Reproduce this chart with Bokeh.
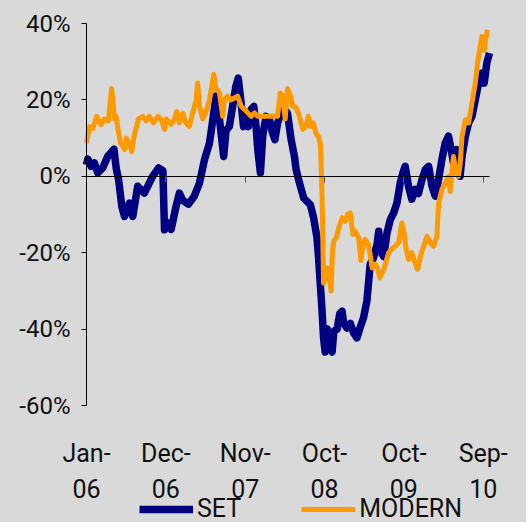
from bokeh.plotting import figure
from bokeh.models import Range1d, LinearAxis, FixedTicker, Legend, LegendItem
from bokeh.core.properties import value
from bokeh.embed import file_html
from bokeh.resources import INLINE

# Trading-day index (0 = first trading day of Jan 2006) and cumulative return in %
set_day = [0, 4, 14, 24, 34, 49, 64, 83, 90, 97, 107, 115, 130, 140, 155, 175, 200, 218, 231,
           236, 246, 256, 271, 281, 291, 308, 326, 342, 357, 372, 382, 392, 397, 407, 415, 422,
           432, 442, 452, 459, 468, 475, 483, 490, 498, 506, 513, 518, 526, 533, 543, 553, 563,
           570, 578, 589, 598, 608, 619, 629, 634, 644, 657, 677, 687, 697, 702, 707, 712, 717,
           722, 728, 735, 743, 748, 758, 766, 773, 778, 788, 798, 808, 818, 828, 838, 848, 853,
           858, 868, 879, 884, 889, 899, 909, 919, 929, 939, 949, 957, 964, 974, 984, 994, 1004,
           1015, 1025, 1035, 1045, 1055, 1065, 1075, 1085, 1095, 1102, 1110, 1120, 1130, 1136,
           1146, 1156, 1166, 1176, 1186, 1196, 1203, 1211, 1219]
set_pct = [3.0, 4.5, 2.6, 3.5, 0.9, 2.2, 5.2, 7.1, 2.0, -0.8, -8.0, -10.5, -7.0, -10.5, -2.6,
           -4.4, 0.0, 2.2, 1.5, -14.0, -12.2, -13.9, -7.8, -4.4, -6.3, -7.3, -5.2, -1.7, 4.4, 8.7,
           14.8, 21.0, 19.0, 11.3, 5.2, 12.0, 13.0, 18.3, 23.6, 25.7, 19.0, 13.0, 15.7, 13.0, 17.5,
           18.3, 13.0, 7.0, 0.9, 10.5, 15.7, 15.0, 11.3, 9.6, 14.0, 16.6, 17.5, 16.5, 9.6, 5.2,
           1.8, -1.7, -5.7, -7.4, -10.9, -16.0, -21.4, -28.0, -34.5, -42.3, -46.0, -40.0, -44.5,
           -46.0, -40.6, -40.0, -36.0, -35.3, -38.5, -39.7, -38.5, -41.0, -42.3, -39.5, -37.0,
           -32.7, -28.0, -23.0, -21.4, -17.8, -14.4, -19.6, -21.0, -14.8, -11.3, -9.6, -7.0, -1.7,
           0.9, 2.6, -2.6, -6.0, -3.4, -4.5, -0.8, 1.8, 2.6, -2.6, -5.2, -0.8, 4.4, 8.7, 10.5,
           7.5, 3.5, 7.0, 0.0, 5.2, 10.5, 14.0, 15.7, 20.0, 24.4, 27.0, 24.4, 29.7, 32.3]

modern_day = [0, 9, 19, 31, 44, 54, 66, 76, 85, 90, 95, 103, 115, 120, 130, 137, 145, 157, 170,
              180, 190, 203, 216, 226, 236, 241, 256, 266, 273, 281, 291, 301, 311, 321, 332, 336,
              342, 352, 362, 372, 385, 392, 402, 412, 417, 427, 437, 447, 457, 468, 478, 488, 498,
              508, 518, 541, 571, 578, 586, 593, 601, 608, 617, 624, 634, 644, 654, 664, 671, 679,
              686, 694, 701, 707, 711, 714, 717, 722, 729, 735, 740, 744, 748, 756, 763, 773, 783,
              790, 798, 806, 813, 823, 830, 836, 843, 853, 858, 864, 874, 880, 887, 899, 914, 924,
              934, 944, 954, 961, 967, 974, 984, 994, 1001, 1010, 1020, 1030, 1040, 1050, 1060,
              1065, 1075, 1085, 1095, 1100, 1105, 1110, 1118, 1125, 1130, 1136, 1146, 1156, 1166,
              1176, 1183, 1191, 1196, 1203, 1209, 1213]
modern_pct = [8.7, 13.0, 12.5, 15.7, 13.5, 15.0, 14.5, 23.0, 15.0, 15.7, 12.3, 8.7, 7.0, 10.0,
              8.7, 6.5, 11.0, 15.0, 15.7, 14.5, 15.7, 14.0, 15.7, 14.8, 12.3, 15.0, 13.6, 15.0,
              17.0, 14.0, 16.5, 14.0, 13.0, 16.6, 20.0, 24.4, 18.3, 15.0, 17.0, 20.0, 26.7, 22.8,
              22.0, 15.7, 20.0, 21.0, 20.0, 20.5, 21.0, 18.3, 17.5, 16.6, 15.7, 16.6, 15.7, 15.7,
              15.7, 15.7, 21.8, 21.0, 15.0, 23.0, 21.0, 18.3, 18.0, 15.7, 12.3, 13.0, 15.7, 13.0,
              14.0, 11.3, 10.5, 8.7, 0.0, -12.0, -28.0, -26.6, -24.0, -26.6, -30.0, -19.6, -17.0,
              -16.0, -13.5, -10.9, -11.8, -10.0, -9.6, -15.2, -14.4, -16.1, -22.0, -18.0, -16.5,
              -17.8, -20.5, -24.0, -23.0, -24.0, -26.6, -24.4, -20.0, -19.0, -18.3, -17.4, -12.2,
              -15.0, -19.0, -21.8, -20.0, -22.7, -24.4, -21.0, -18.3, -15.7, -17.4, -18.3, -15.7,
              -7.0, -3.5, -1.7, 0.0, -4.0, 0.9, 5.2, 0.9, 0.0, 3.0, 10.5, 14.8, 14.0, 19.2, 24.4,
              29.7, 34.0, 36.6, 33.0, 36.6, 38.4]

tick_days = [0, 240, 480, 720, 960, 1200]
tick_month = ["Jan-", "Dec-", "Nov-", "Oct-", "Oct-", "Sep-"]
tick_year = ["06", "06", "07", "08", "09", "10"]
y_ticks = [-60, -40, -20, 0, 20, 40]
y_labels = ["-60%", "-40%", "-20%", "0%", "20%", "40%"]

BG = "#d9d9d9"
FONT = "Roboto"
TXT = "#111111"

# ---- layout (pixels) ----
FIG_W, FIG_H = 526, 522
TOP, RIGHT = 5, 10
FRAME_W = FIG_W - RIGHT
AXIS_LEFT = 86            # screen x of the value axis (first trading day)
PLOT_W = 403              # screen width of the data span (day 0 .. last day)
LAST_DAY = 1219
AXIS_TOP = 23             # screen y of 40%
AXIS_H = 382              # screen height of the -60%..40% span
PX_PER_DAY = PLOT_W / LAST_DAY
PX_PER_PCT = AXIS_H / 100.0
X0 = -AXIS_LEFT / PX_PER_DAY
X1 = X0 + FRAME_W / PX_PER_DAY
Y_HI = 40 + (AXIS_TOP - TOP) / PX_PER_PCT
Y_LO = -60 - (FIG_H - AXIS_TOP - AXIS_H) / PX_PER_PCT
YLAB_X = -16 / PX_PER_DAY              # right edge of the value labels
MONTH_BASE = -60 - 48 / PX_PER_PCT     # baseline of month labels
YEAR_BASE = -60 - 83 / PX_PER_PCT      # baseline of year labels

p = figure(width=FIG_W, height=FIG_H, output_backend="svg", toolbar_location=None,
           x_range=Range1d(X0, X1), y_range=Range1d(Y_LO, Y_HI),
           x_axis_location=None, y_axis_location=None,
           min_border_left=0, min_border_right=RIGHT, min_border_top=TOP, min_border_bottom=0,
           background_fill_color=BG, border_fill_color=BG, outline_line_color=None)
p.xgrid.visible = False
p.ygrid.visible = False

# value axis line at the first trading day, ticks pointing left
yax = LinearAxis(fixed_location=0, bounds=(-60, 40), ticker=FixedTicker(ticks=y_ticks),
                 major_label_overrides={t: "" for t in y_ticks},
                 major_tick_out=0, major_tick_in=5, minor_tick_line_color=None,
                 axis_line_color="black", major_tick_line_color="black",
                 major_label_text_font_size="1px", major_label_standoff=0)
p.add_layout(yax, "right")

# category axis crossing at 0%, ticks pointing down
zax = LinearAxis(fixed_location=0, bounds=(0, LAST_DAY), ticker=FixedTicker(ticks=tick_days),
                 major_label_overrides={d: "" for d in tick_days},
                 major_tick_out=0, major_tick_in=6, minor_tick_line_color=None,
                 axis_line_color="black", major_tick_line_color="#555555",
                 major_label_text_font_size="1px", major_label_standoff=0)
p.add_layout(zax, "above")

r_set = p.line(set_day, set_pct, line_color="#000080", line_width=7.5,
               line_join="round", line_cap="butt")
r_mod = p.line(modern_day, modern_pct, line_color="#FF9900", line_width=5,
               line_join="round", line_cap="butt")

# value labels
p.text(x=[YLAB_X] * len(y_ticks), y=y_ticks, text=y_labels,
       text_font=value(FONT), text_font_size="24px", text_color=TXT,
       text_align="right", text_baseline="middle")

# two-line category labels at the bottom
p.text(x=tick_days, y=[MONTH_BASE] * len(tick_days), text=tick_month,
       text_font=value(FONT), text_font_size="25px", text_color=TXT,
       text_align="center", text_baseline="alphabetic")
p.text(x=tick_days, y=[YEAR_BASE] * len(tick_days), text=tick_year,
       text_font=value(FONT), text_font_size="25px", text_color=TXT,
       text_align="center", text_baseline="alphabetic")

legend = Legend(items=[LegendItem(label="SET", renderers=[r_set]),
                       LegendItem(label="MODERN", renderers=[r_mod])],
                location=(139, -1), orientation="horizontal",
                background_fill_alpha=0, border_line_alpha=0,
                padding=0, margin=0, spacing=60, glyph_width=54, glyph_height=26,
                label_height=26, label_standoff=4, label_text_font=FONT,
                label_text_font_size="25px", label_text_color=TXT)
p.add_layout(legend)

TEMPLATE = """{% block postamble %}<style>html, body { background-color: #d9d9d9; overflow: hidden; }</style>{% endblock %}"""

open("out.html", "w").write(file_html(p, INLINE, template=TEMPLATE))
